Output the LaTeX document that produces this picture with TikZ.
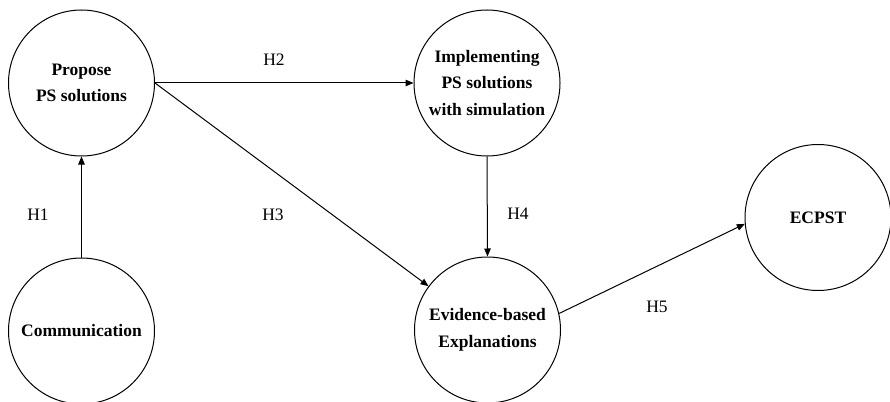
\documentclass[tikz,border=0pt]{standalone}
\usepackage{fontspec}
\setmainfont{Liberation Serif}
\usetikzlibrary{arrows.meta}
\begin{document}
\begin{tikzpicture}[x=1pt,y=-1pt,
  var/.style={circle,draw,line width=1pt,minimum size=146pt,inner sep=0pt,align=center,font=\fontsize{17.5}{26.5}\selectfont\bfseries},
  link/.style={line width=1pt,-{Triangle[length=8pt,width=6.5pt]}},
  hyp/.style={font=\fontsize{17.5}{21}\selectfont}]
\useasboundingbox (0,0) rectangle (890,401);
\node[var] (A) at (81.5,83) {Propose\\PS solutions};
\node[var] (B) at (81.5,331) {Communication};
\node[var] (C) at (487,83) {Implementing\\PS solutions\\with simulation};
\node[var] (D) at (487.5,330) {Evidence-based\\Explanations};
\node[var] (E) at (818,217.5) {ECPST};
\draw[link] (B.north) -- (A.south);
\draw[link] (A.east) -- (C.west);
\draw[link] (A.east) -- (D);
\draw[link] (C.south) -- (D.north);
\draw[link] (D.13) -- (E.185);
\node[hyp] (h1) at (38,215) {H1};
\node[hyp] (h2) at (274,60) {H2};
\node[hyp] (h3) at (273,215) {H3};
\node[hyp] (h4) at (518,214) {H4};
\node[hyp] (h5) at (657,307) {H5};
\end{tikzpicture}
\end{document}
